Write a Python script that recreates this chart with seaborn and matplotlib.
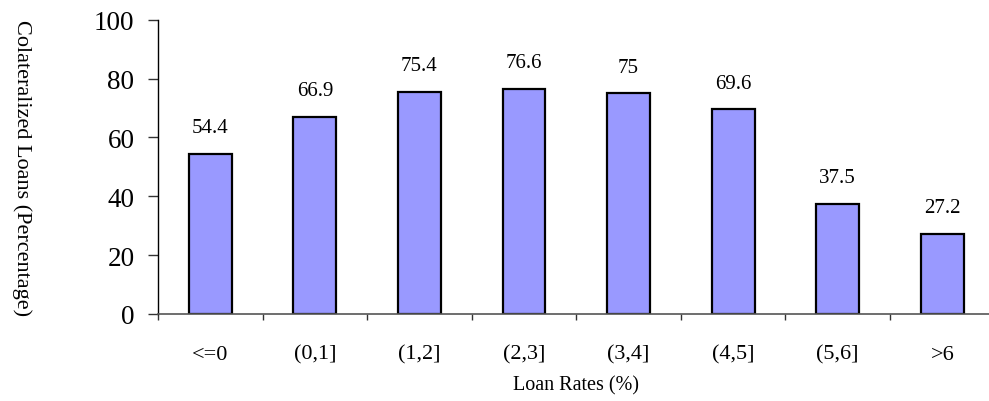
import matplotlib
matplotlib.use("Agg")
import matplotlib.pyplot as plt
import seaborn as sns
import pandas as pd
import numpy as np

categories = ["<=0", "(0,1]", "(1,2]", "(2,3]", "(3,4]", "(4,5]", "(5,6]", ">6"]
values = [54.4, 66.9, 75.4, 76.6, 75, 69.6, 37.5, 27.2]
value_labels = ["54.4", "66.9", "75.4", "76.6", "75", "69.6", "37.5", "27.2"]
y_ticks = [0, 20, 40, 60, 80, 100]

sns.set_style("white")
plt.rcParams['font.family'] = ['Liberation Serif', 'DejaVu Serif']
plt.rcParams['text.color'] = 'black'
plt.rcParams['xtick.color'] = 'black'
plt.rcParams['ytick.color'] = 'black'
plt.rcParams['axes.labelcolor'] = 'black'

df = pd.DataFrame({"cat": categories, "val": values})

fig = plt.figure(figsize=(9.89, 4.02), dpi=100)
ax = fig.add_axes([158/989, 1 - 315/402, 836.6/989, 294.3/402])

sns.barplot(data=df, x="cat", y="val", ax=ax, color="#9999FF", saturation=1,
            width=0.41, edgecolor="black", linewidth=1.6)

ax.set_ylim(0, 100)
ax.set_xlim(-0.5, len(categories) - 0.5)
ax.set_yticks(y_ticks)
ax.set_yticklabels([str(t) for t in y_ticks], fontsize=19.5)

ax.set_xticks(range(len(categories)))
ax.set_xticklabels(categories, fontsize=16)
ax.tick_params(axis="x", which="major", length=0, pad=22)
ax.set_xticks(np.arange(-0.5, len(categories), 1.0), minor=True)
ax.tick_params(axis="x", which="minor", length=4, width=1, color="#333333", direction="out", bottom=True)
ax.tick_params(axis="y", length=7, width=1, color="#333333", direction="out", left=True, pad=10)

for s in ["top", "right"]:
    ax.spines[s].set_visible(False)
ax.spines["left"].set_color("black")
ax.spines["left"].set_linewidth(1)
ax.spines["bottom"].set_color("#555555")
ax.spines["bottom"].set_linewidth(1.2)

for i, (v, lab) in enumerate(zip(values, value_labels)):
    ax.annotate(lab, (i, v), xytext=(0, 12), textcoords="offset points",
                ha="center", va="bottom", fontsize=15)

ax.set_xlabel("Loan Rates (%)", fontsize=14.5)
ax.xaxis.set_label_coords(0.5, -(386 - 315) / 294.3)
ax.xaxis.label.set_va("center")
ax.set_ylabel("Colateralized Loans (Percentage)", fontsize=16, rotation=270,
              va="center", ha="center")
ax.yaxis.set_label_coords((22 - 158) / 836.6, 0.5)

fig.savefig("out.png", dpi=100)
